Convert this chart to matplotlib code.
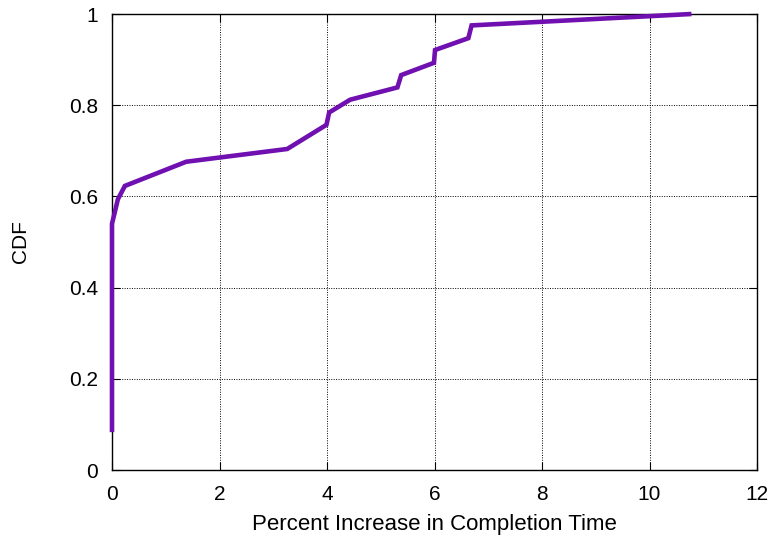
import matplotlib
matplotlib.use("Agg")
import matplotlib.pyplot as plt

x_vals = [0.0, 0.0, 0.11, 0.24, 1.38, 3.26, 3.99, 4.04, 4.43, 5.31, 5.38, 5.99, 6.01, 6.63, 6.69, 10.78]
cdf_vals = [0.083, 0.54, 0.594, 0.623, 0.676, 0.704, 0.757, 0.784, 0.812, 0.839, 0.866, 0.893, 0.921, 0.947, 0.975, 1.0]

x_ticks = [0, 2, 4, 6, 8, 10, 12]
y_ticks = [0, 0.2, 0.4, 0.6, 0.8, 1]
y_ticklabels = ["0", "0.2", "0.4", "0.6", "0.8", "1"]

plt.rcParams['font.family'] = ['Liberation Sans', 'DejaVu Sans']

fig = plt.figure(figsize=(7.73, 5.37), dpi=100)
ax = fig.add_axes([112/773, 67/537, (757-112)/773, (470-14)/537])

ax.plot(x_vals, cdf_vals, color='#7010b0', linewidth=3.3, solid_joinstyle='miter',
        solid_capstyle='butt', zorder=3, clip_on=False)

ax.set_xlim(0, 12)
ax.set_ylim(0, 1)
ax.set_xticks(x_ticks)
ax.set_yticks(y_ticks)
ax.set_yticklabels(y_ticklabels)
ax.grid(True, color='black', linestyle=(0, (1, 1.5)), linewidth=0.7)
ax.tick_params(direction='in', top=True, right=True, length=6, labelsize=15)
ax.tick_params(axis='x', pad=11)
ax.tick_params(axis='y', pad=10)
for s in ax.spines.values():
    s.set_linewidth(1.0)
ax.set_xlabel("Percent Increase in Completion Time", fontsize=16, labelpad=7)
ax.set_ylabel("CDF", fontsize=15, labelpad=28)

fig.savefig("out.png", dpi=100)
